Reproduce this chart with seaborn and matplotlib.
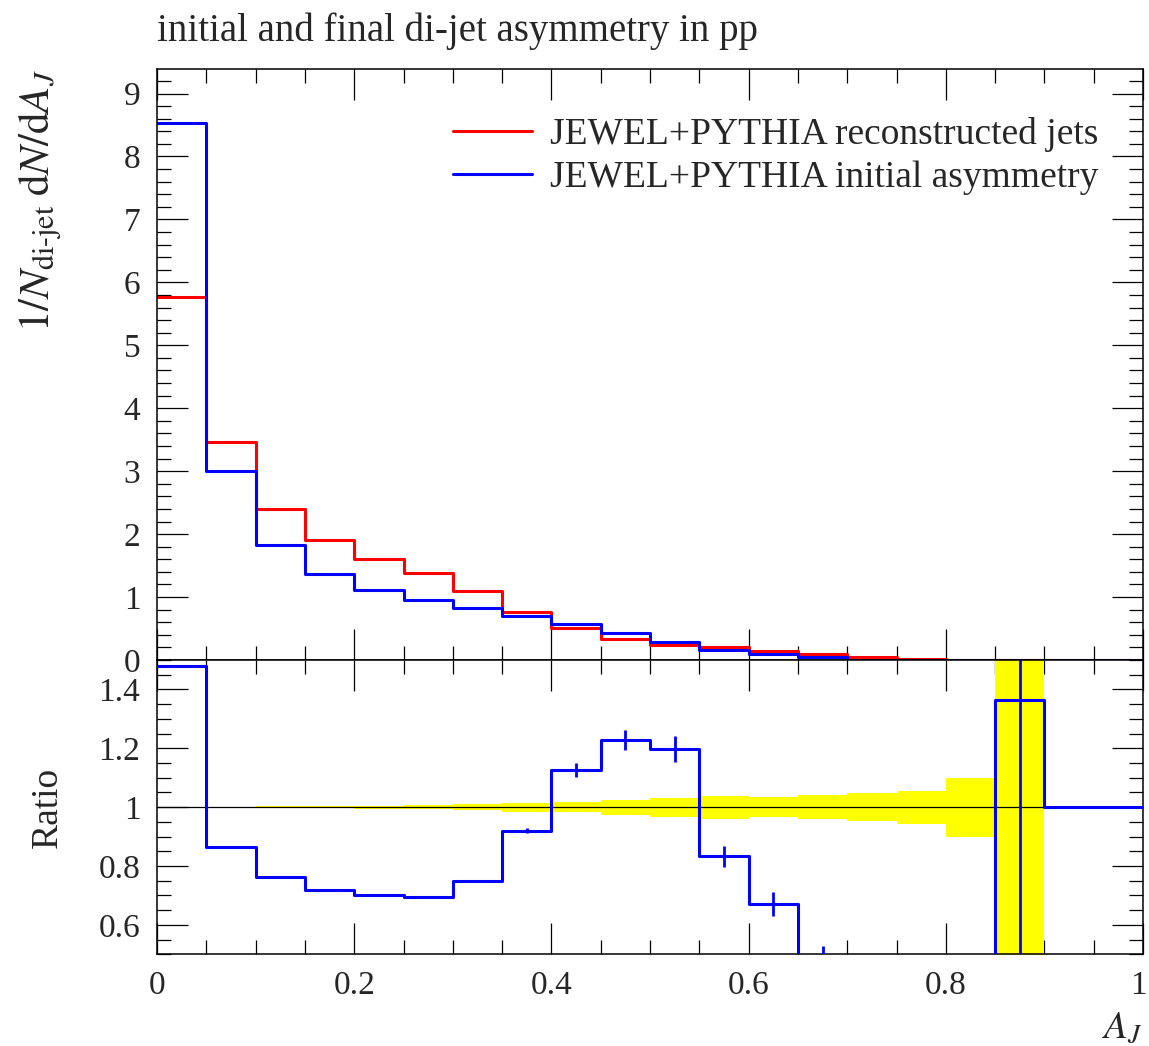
import numpy as np
import pandas as pd
import matplotlib
matplotlib.use("Agg")
import matplotlib.pyplot as plt
from matplotlib.ticker import MultipleLocator, FormatStrFormatter
from matplotlib.transforms import ScaledTranslation
import seaborn as sns

# ---- data -------------------------------------------------------------
bin_edges = np.round(np.arange(0.0, 1.0001, 0.05), 3)
bin_centers = 0.5 * (bin_edges[:-1] + bin_edges[1:])

# 1/N dN/dA_J, reconstructed jets (red)
reco_jets = [5.77, 3.46, 2.40, 1.90, 1.61, 1.38, 1.10, 0.76, 0.51, 0.34,
             0.24, 0.20, 0.15, 0.10, 0.04, 0.01, 0.005, 0.002, 0.001, 0.0]
# 1/N dN/dA_J, initial asymmetry (blue)
initial_asym = [8.54, 3.00, 1.83, 1.37, 1.12, 0.95, 0.83, 0.70, 0.57, 0.43,
                0.29, 0.16, 0.10, 0.045, 0.0, 0.0, 0.0, 0.0, 0.0014, 0.0]

# ratio initial / reconstructed and its statistical error
ratio_vals = [1.48, 0.864, 0.762, 0.719, 0.701, 0.696, 0.749, 0.920, 1.126, 1.227,
              1.198, 0.833, 0.671, 0.45, 0.0, 0.0, 0.0, 1.364, 1.0, 1.0]
ratio_errs = [0.0, 0.0, 0.0, 0.0, 0.0, 0.003, 0.005, 0.008, 0.024, 0.034,
              0.045, 0.036, 0.040, 0.078, 0.0, 0.0, 0.0, 1.5, 0.0, 0.0]
# relative uncertainty of the reference (yellow band); NaN = no band
ref_band = [0.001, 0.002, 0.003, 0.004, 0.005, 0.007, 0.010, 0.015, 0.018, 0.025,
            0.032, 0.039, 0.035, 0.041, 0.048, 0.056, 0.100, 1.0, np.nan, np.nan]

title_text = "initial and final di-jet asymmetry in pp"
label_reco = "JEWEL+PYTHIA reconstructed jets"
label_init = "JEWEL+PYTHIA initial asymmetry"

# ---- style ------------------------------------------------------------
sns.set_style("ticks")
plt.rcParams["font.family"] = ["Liberation Serif", "DejaVu Serif"]
plt.rcParams["mathtext.fontset"] = "stix"

RED = "#ff0000"
BLUE = "#0000ff"
YELLOW = "#ffff00"

fig = plt.figure(figsize=(11.49, 10.46), dpi=100)
ax = fig.add_axes([0.13664, 0.36902, 0.85814, 0.56501])
axr = fig.add_axes([0.13664, 0.08767, 0.85814, 0.28136], sharex=ax)

df = pd.DataFrame({"A_J": bin_centers, "reco": reco_jets, "init": initial_asym})
edges_list = bin_edges.tolist()

# ---- main panel -------------------------------------------------------
sns.histplot(data=df, x="A_J", weights="reco", bins=edges_list, element="step",
             fill=False, color=RED, linewidth=2.2, label=label_reco, ax=ax)
sns.histplot(data=df, x="A_J", weights="init", bins=edges_list, element="step",
             fill=False, color=BLUE, linewidth=2.2, label=label_init, ax=ax)
ax.set_xlim(0, 1)
ax.set_ylim(0, 9.39)
ax.set_xlabel("")
ax.set_ylabel(r"$1/N_{\mathrm{di}\text{-}\mathrm{jet}}\;\mathrm{d}N/\mathrm{d}A_J$",
              fontsize=31, loc="top")
ax.yaxis.set_label_coords(-0.0933, 1.0)
ax.set_title(title_text, loc="left", fontsize=28, pad=20.4)
ax.yaxis.set_major_locator(MultipleLocator(1))
ax.yaxis.set_minor_locator(MultipleLocator(0.2))
ax.yaxis.set_major_formatter(FormatStrFormatter("%g"))
ax.tick_params(axis="x", labelbottom=False)

leg = ax.legend(loc="upper right", bbox_to_anchor=(0.9544, 0.9185), frameon=False,
                fontsize=27, handlelength=2.1, handletextpad=0.48,
                labelspacing=0.215, borderpad=0.0, borderaxespad=0.0)
for h in leg.get_lines():
    h.set_linewidth(2.2)

# ---- ratio panel ------------------------------------------------------
for lo_edge, hi_edge, half in zip(bin_edges[:-1], bin_edges[1:], ref_band):
    if np.isfinite(half):
        axr.fill_between([lo_edge, hi_edge], 1.0 - half, 1.0 + half,
                         color=YELLOW, linewidth=0, zorder=1)
axr.axhline(1.0, color="black", linewidth=0.9, zorder=2)

ratio_df = pd.DataFrame({"A_J": bin_edges,
                         "ratio": np.append(ratio_vals, ratio_vals[-1])})
sns.lineplot(data=ratio_df, x="A_J", y="ratio", drawstyle="steps-post",
             estimator=None, color=BLUE, linewidth=2.2, ax=axr, zorder=3)
err = np.array(ratio_errs)
sel = err > 0
axr.errorbar(bin_centers[sel], np.array(ratio_vals)[sel], yerr=err[sel],
             fmt="none", ecolor=BLUE, elinewidth=2.0, capsize=0, zorder=3)

axr.set_xlim(0, 1)
axr.set_ylim(0.5, 1.5)
axr.set_ylabel("Ratio", fontsize=27)
axr.yaxis.set_label_coords(-0.0933, 0.5)
axr.set_xlabel(r"$A_J$", fontsize=28, loc="right", labelpad=6)
axr.yaxis.set_major_locator(MultipleLocator(0.2))
axr.yaxis.set_minor_locator(MultipleLocator(0.05))
axr.yaxis.set_major_formatter(FormatStrFormatter("%g"))
axr.xaxis.set_major_locator(MultipleLocator(0.2))
axr.xaxis.set_minor_locator(MultipleLocator(0.05))
axr.xaxis.set_major_formatter(FormatStrFormatter("%g"))

for a in (ax, axr):
    a.tick_params(which="both", direction="in", top=True, right=True,
                  color="black", width=0.9)
    a.tick_params(which="major", length=22.5, labelsize=24, pad=12)
    a.tick_params(which="minor", length=10)
    for s in a.spines.values():
        s.set_linewidth(1.1)
        s.set_color("black")

# keep the rightmost x tick label ("1") inside the figure edge
fig.canvas.draw()
shift = ScaledTranslation(-3.5 / 72, 0, fig.dpi_scale_trans)
for lab in axr.xaxis.get_majorticklabels():
    if lab.get_text() == "1":
        lab.set_transform(lab.get_transform() + shift)

fig.savefig("out.png", dpi=100)
